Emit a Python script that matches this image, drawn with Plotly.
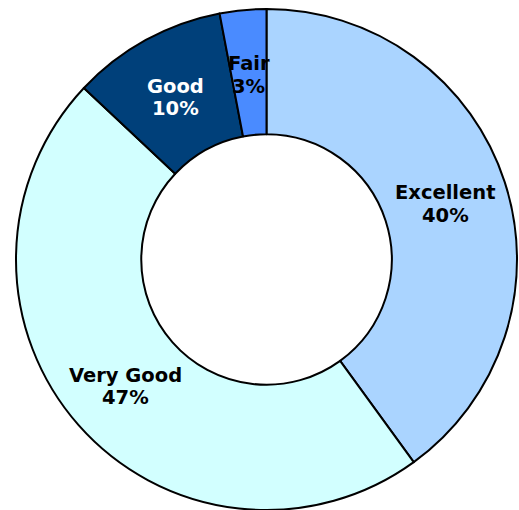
import math
import plotly.graph_objects as go

# Ratings, clockwise from 12 o'clock
categories = ["Excellent", "Very Good", "Good", "Fair"]
shares = [40, 47, 10, 3]
slice_colors = ["#AAD4FF", "#D2FFFF", "#00407A", "#4A8BFF"]
label_colors = ["#000000", "#000000", "#FFFFFF", "#000000"]

W, H = 519, 510
cx_px, cy_px = 266.5, 259.5      # centre of the ring (pixels from top-left)
R_px = 250.5                     # outer radius
hole = 0.5
line_gap = 22.4                  # distance between the two label lines
text_drop = 2.5                  # nudge so the glyphs sit centred on the ring

fig = go.Figure(
    go.Pie(
        labels=categories,
        values=shares,
        sort=False,
        direction="clockwise",
        rotation=0,
        hole=hole,
        marker=dict(colors=slice_colors, line=dict(color="#000000", width=2)),
        textinfo="none",
        hoverinfo="label+percent",
        showlegend=False,
        domain=dict(
            x=[(cx_px - R_px) / W, (cx_px + R_px) / W],
            y=[(H - cy_px - R_px) / H, (H - cy_px + R_px) / H],
        ),
    )
)

# Labels sit in the middle of the ring, at each slice's mid angle
total = sum(shares)
label_r = R_px * (1 + hole) / 2
cum = 0
for name, val, col in zip(categories, shares, label_colors):
    mid = (cum + val / 2) / total * 2 * math.pi
    cum += val
    x_px = cx_px + label_r * math.sin(mid)
    y_px = cy_px - label_r * math.cos(mid) + text_drop
    pct = f"{round(val / total * 100)}%"
    for txt, dy in ((name, -line_gap / 2), (pct, line_gap / 2)):
        fig.add_annotation(
            x=x_px / W,
            y=1 - (y_px + dy) / H,
            xref="paper",
            yref="paper",
            text=f"<b>{txt}</b>",
            showarrow=False,
            xanchor="center",
            yanchor="middle",
            font=dict(family="DejaVu Sans", size=19.5, color=col),
        )

fig.update_layout(
    width=W,
    height=H,
    margin=dict(l=0, r=0, t=0, b=0),
    paper_bgcolor="#FFFFFF",
    plot_bgcolor="#FFFFFF",
)

fig.write_html("out.html")
